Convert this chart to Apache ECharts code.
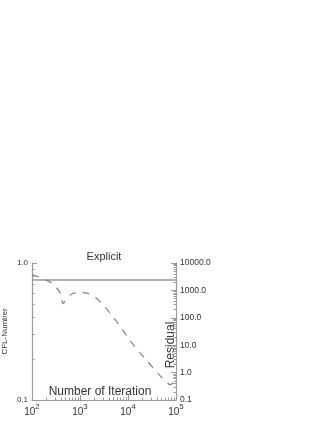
<!DOCTYPE html>
<html><head><meta charset="utf-8">
<script src="https://cdn.jsdelivr.net/npm/echarts@6/dist/echarts.min.js"></script>
<style>html,body{margin:0;padding:0;background:#fff}#c{width:327px;height:423px}</style>
</head><body><div id="c"></div>
<script>
// Data
var iterations = [100, 130, 190, 260, 330, 400, 440, 530, 670, 1000, 1400, 2000, 2900, 4600, 7300, 10700, 15800, 25300, 45700, 62000, 75000, 97000];
var residual   = [3700, 3200, 2450, 1870, 1200, 740, 330, 480, 740, 870, 800, 600, 320, 123, 42, 15.7, 6.7, 2.6, 0.79, 0.48, 0.36, 0.5];
var cflIter = [100, 100000];
var cflValue = [0.75, 0.75];
var xTickBase = '10';
var xTickExp = {100: '2', 1000: '3', 10000: '4', 100000: '5'};
var leftTickLabels = {0.1: '0.1', 1: '1.0'};
var rightTickLabels = {0.1: '0.1', 1: '1.0', 10: '10.0', 100: '100.0', 1000: '1000.0', 10000: '10000.0'};

function minorTicks(lo, hi) {
  var out = [];
  for (var d = lo; d < hi; d *= 10) for (var k = 2; k <= 9; k++) out.push(+(d * k).toPrecision(6));
  return out;
}

var gray = '#9a9a9a';
var txt = '#333';
var font = 'Liberation Sans';

var chart = echarts.init(document.getElementById('c'), null, {renderer: 'canvas'});
chart.setOption({
  animation: false,
  backgroundColor: '#fff',
  grid: {left: 29, right: 151, top: 263, bottom: 23, containLabel: false},
  xAxis: [{
    type: 'log', logBase: 10, min: 100, max: 100000, position: 'bottom',
    axisLine: {lineStyle: {color: gray, width: 1.2}},
    axisTick: {inside: true, length: 5, lineStyle: {color: gray}},
    axisLabel: {color: txt, fontSize: 10, fontFamily: font, margin: 1,
      formatter: function (v) {
        var e = xTickExp[Math.round(v)];
        return e ? '{b|' + xTickBase + '}{s|' + e + '}' : '';
      },
      rich: {
        b: {fontSize: 10, fontFamily: font, color: txt, padding: [6, 0, 0, 0]},
        s: {fontSize: 8, fontFamily: font, color: txt, padding: [0, 0, 5, 0]}
      }},
    splitLine: {show: false}
  }, {
    type: 'log', logBase: 10, min: 100, max: 100000, position: 'bottom',
    axisLine: {show: false},
    axisTick: {inside: true, length: 2.5, lineStyle: {color: gray}, customValues: minorTicks(100, 100000)},
    axisLabel: {show: false}, splitLine: {show: false}
  }],
  yAxis: [{
    type: 'log', logBase: 10, min: 0.1, max: 1, position: 'left',
    name: 'CFL-Number', nameLocation: 'middle', nameGap: 23,
    nameTextStyle: {color: txt, fontSize: 8, fontFamily: font},
    axisLine: {lineStyle: {color: gray, width: 1.2}},
    axisTick: {inside: true, length: 5, lineStyle: {color: gray}},
    axisLabel: {color: txt, fontSize: 8, fontFamily: font, margin: 4,
      formatter: function (v) { return leftTickLabels[+v.toPrecision(3)] || ''; }},
    splitLine: {show: false}
  }, {
    type: 'log', logBase: 10, min: 0.1, max: 1, position: 'left',
    axisLine: {show: false},
    axisTick: {inside: true, length: 2.5, lineStyle: {color: gray}, customValues: minorTicks(0.1, 1)},
    axisLabel: {show: false}, splitLine: {show: false}
  }, {
    type: 'log', logBase: 10, min: 0.1, max: 10000, position: 'right',
    axisLine: {lineStyle: {color: gray, width: 1.2}},
    axisTick: {inside: true, length: 5, lineStyle: {color: gray}},
    axisLabel: {color: txt, fontSize: 8.5, fontFamily: font, margin: 4, padding: [4, 0, 0, 0],
      formatter: function (v) { return rightTickLabels[+v.toPrecision(3)] || ''; }},
    splitLine: {show: false}
  }, {
    type: 'log', logBase: 10, min: 0.1, max: 10000, position: 'right',
    axisLine: {show: false},
    axisTick: {inside: true, length: 2.5, lineStyle: {color: gray}, customValues: minorTicks(0.1, 10000)},
    axisLabel: {show: false}, splitLine: {show: false}
  }],
  graphic: [
    {type: 'text', x: 104, y: 257, style: {text: 'Explicit', fill: txt, font: '11px ' + font, textAlign: 'center', textVerticalAlign: 'middle'}},
    {type: 'text', x: 100, y: 392, style: {text: 'Number of Iteration', fill: txt, font: '12px ' + font, textAlign: 'center', textVerticalAlign: 'middle'}},
    {type: 'text', x: 171, y: 345, rotation: Math.PI / 2, style: {text: 'Residual', fill: txt, font: '12px ' + font, textAlign: 'center', textVerticalAlign: 'middle'}}
  ],
  series: [{
    type: 'line', xAxisIndex: 0, yAxisIndex: 0, symbol: 'none',
    data: cflIter.map(function (x, i) { return [x, cflValue[i]]; }),
    lineStyle: {color: gray, width: 1.5, type: 'solid'}
  }, {
    type: 'line', xAxisIndex: 0, yAxisIndex: 2, symbol: 'none', smooth: 0.2,
    data: iterations.map(function (x, i) { return [x, residual[i]]; }),
    lineStyle: {color: '#8a8a8a', width: 1.3, type: [7, 7]}
  }]
});
</script></body></html>
